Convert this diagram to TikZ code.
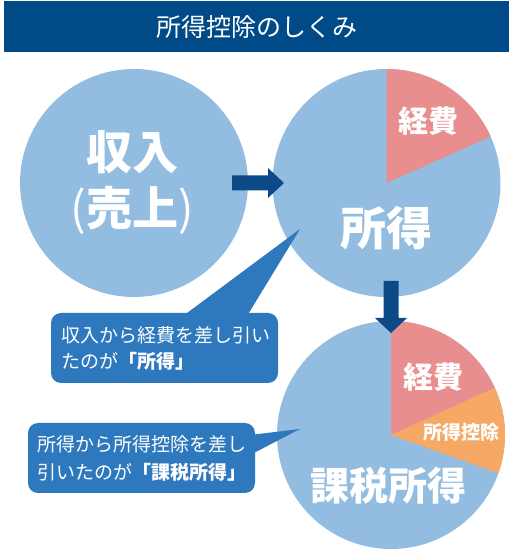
\documentclass[tikz,border=0pt]{standalone}
\usepackage{fontspec}
\setmainfont{Noto Sans CJK JP}
\definecolor{titleblue}{HTML}{004A87}
\definecolor{circblue}{HTML}{92BDE1}
\definecolor{slicered}{HTML}{E88E8E}
\definecolor{sliceorange}{HTML}{F5A965}
\definecolor{arrowblue}{HTML}{0B4A87}
\definecolor{calloutblue}{HTML}{2E78BE}
\tikzset{
  lbl/.style={text=white, inner sep=0pt, font=\bfseries},
  ctext/.style={text=white, inner sep=0pt, align=left, anchor=west},
  bub/.style={fill=calloutblue, rounded corners=10pt},
  blockarrow/.style={fill=arrowblue},
}
\begin{document}
\begin{tikzpicture}[x=1pt,y=1pt]
\useasboundingbox (0,0) rectangle (514,552);
% title
\fill[titleblue] (4,500) rectangle (509,551);
\node[text=white, inner sep=0pt, font=\fontsize{25}{28}\selectfont] (title) at (256.5,525) {所得控除のしくみ};
% circles
\coordinate (cL) at (134,369);
\coordinate (cR) at (386.5,369);
\coordinate (cB) at (391,117);
\fill[circblue] (cL) circle (114);
\fill[circblue] (cR) circle (114);
\fill[slicered] (cR) -- ++(24:114) arc (24:90:114) -- cycle;
\fill[circblue] (cB) circle (114);
\fill[slicered] (cB) -- ++(24.5:114) arc (24.5:90:114) -- cycle;
\fill[sliceorange] (cB) -- ++(-19.6:114) arc (-19.6:24.5:114) -- cycle;
% labels
\node[lbl, align=center, font=\bfseries\fontsize{46}{56}\selectfont] (income) at (132,369) {収入\\{\mdseries(}売上{\mdseries)}};
\node[lbl, font=\bfseries\fontsize{30}{34}\selectfont] (exp1) at (428,431) {経費};
\node[lbl, font=\bfseries\fontsize{46}{50}\selectfont] (inc) at (386,324) {所得};
\node[lbl, font=\bfseries\fontsize{30}{34}\selectfont] (exp2) at (433,175) {経費};
\node[lbl, font=\bfseries\fontsize{19}{22}\selectfont] (ded) at (461,120) {所得控除};
\node[lbl, font=\bfseries\fontsize{39}{44}\selectfont] (taxinc) at (388,66) {課税所得};
% arrows
\fill[blockarrow] (232,361.5) -- (268,361.5) -- (268,354) -- (284,369) -- (268,384) -- (268,376.5) -- (232,376.5) -- cycle;
\fill[blockarrow] (383.5,271) -- (383.5,234) -- (375,234) -- (391,219) -- (407,234) -- (398.5,234) -- (398.5,271) -- cycle;
% callout 1
\coordinate (t1) at (300,323);
\fill[calloutblue] (183,236) -- (t1) -- (247,236) -- cycle;
\fill[bub] (51,169) rectangle (278,239);
\node[ctext, font=\fontsize{19}{26}\selectfont] (c1) at (61,204) {収入から経費を差し引い\\たのが\textbf{「所得」}};
% callout 2
\coordinate (t2) at (300,123);
\fill[calloutblue] (250,117) -- (t2) -- (250,97) -- cycle;
\fill[bub] (28,59) rectangle (255,129);
\node[ctext, font=\fontsize{19}{28}\selectfont] (c2) at (37,94) {所得から所得控除を差し\\引いたのが\textbf{「課税所得」}};
\end{tikzpicture}
\end{document}
